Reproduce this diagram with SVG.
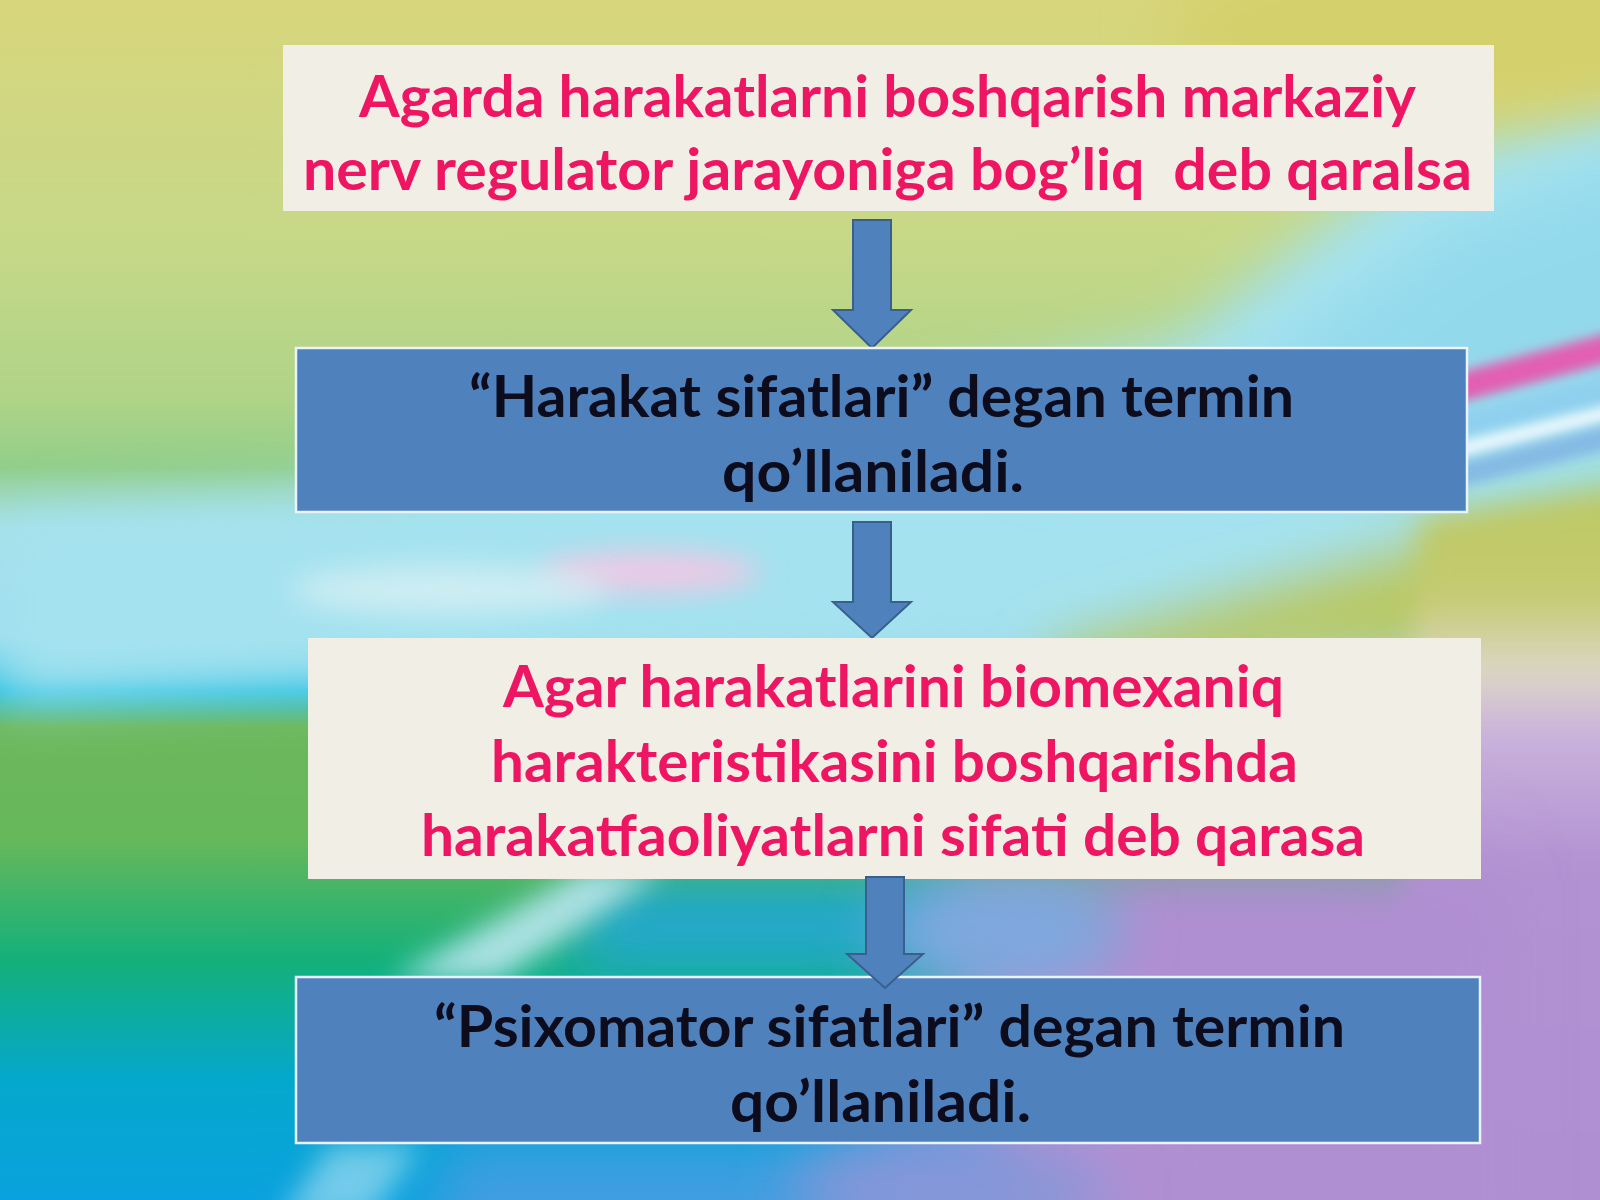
<svg xmlns="http://www.w3.org/2000/svg" width="1600" height="1200" viewBox="0 0 1600 1200">
<defs>
<style>
.cream{fill:#f1eee5;}
.blue{fill:#4f81bd;stroke:#eaf4fb;stroke-width:2.5;}
.pink{fill:#ee1663;font-family:Lato,"Open Sans","Liberation Sans",sans-serif;font-weight:bold;font-size:58px;}
.dark{fill:#0c0c1c;font-family:Lato,"Open Sans","Liberation Sans",sans-serif;font-weight:bold;font-size:58px;}
.arrow{fill:#4f81bd;stroke:#3a5f8c;stroke-width:2;stroke-linejoin:miter;}
</style>
<linearGradient id="bgv" x1="0" y1="0" x2="0" y2="1">
<stop offset="0" stop-color="#d8d67c"/>
<stop offset="0.2" stop-color="#c6d888"/>
<stop offset="0.33" stop-color="#b0d487"/>
<stop offset="0.39" stop-color="#92ce8a"/>
<stop offset="0.44" stop-color="#a6e0e6"/>
<stop offset="0.53" stop-color="#9edcf0"/>
<stop offset="0.575" stop-color="#22c0e0"/>
<stop offset="0.605" stop-color="#6cb85c"/>
<stop offset="0.7" stop-color="#66b85a"/>
<stop offset="0.8" stop-color="#14b07a"/>
<stop offset="0.9" stop-color="#04a8cc"/>
<stop offset="1" stop-color="#0aa2de"/>
</linearGradient>
<linearGradient id="rightv" x1="0" y1="480" x2="0" y2="1250" gradientUnits="userSpaceOnUse">
<stop offset="0" stop-color="#bcc862"/>
<stop offset="0.15" stop-color="#c4cb70"/>
<stop offset="0.25" stop-color="#ddd6c6"/>
<stop offset="0.33" stop-color="#c9b2dc"/>
<stop offset="0.5" stop-color="#b292d2"/>
<stop offset="1" stop-color="#ae8ed2"/>
</linearGradient>
<filter id="b60" x="-50%" y="-50%" width="200%" height="200%"><feGaussianBlur stdDeviation="55"/></filter>
<filter id="b30" x="-50%" y="-50%" width="200%" height="200%"><feGaussianBlur stdDeviation="28"/></filter>
<filter id="b15" x="-50%" y="-50%" width="200%" height="200%"><feGaussianBlur stdDeviation="14"/></filter>
<filter id="b6" x="-50%" y="-50%" width="200%" height="200%"><feGaussianBlur stdDeviation="6"/></filter>
</defs>

<g id="background">
<rect x="0" y="0" width="1600" height="1200" fill="url(#bgv)"/>
<!-- cyan wedge from upper right -->
<polygon points="1750,60 1400,170 1340,215 1180,340 700,450 300,500 0,520 0,700 600,660 1080,640 1450,520 1750,470" fill="#a4e2ef" filter="url(#b30)"/>
<polygon points="1750,120 1450,230 1250,380 1000,470 1200,470 1500,420 1750,380" fill="#8fd8ec" filter="url(#b30)" opacity="0.8"/>
<!-- yellow top right -->
<ellipse cx="1480" cy="30" rx="320" ry="80" fill="#d4d06c" filter="url(#b30)"/>
<!-- yellow-green right middle below wedge -->
<polygon points="1050,650 1450,540 1750,490 1750,640 1300,660 1050,700" fill="#bac862" filter="url(#b30)"/>
<!-- right strip: yellow-green to pale to purple -->
<polygon points="1420,520 1700,480 1700,1300 1380,1300" fill="url(#rightv)" filter="url(#b15)"/>
<!-- purple lower right -->
<polygon points="1200,880 1450,880 1450,1300 880,1300 900,1140 960,880" fill="#b290d2" filter="url(#b60)"/>
<polygon points="1100,880 1500,880 1500,1300 1150,1300" fill="#b08ed2" filter="url(#b30)"/>
<!-- lower middle blue -->
<polygon points="600,880 960,880 960,975 560,975" fill="#22a8cc" filter="url(#b30)"/>
<ellipse cx="1000" cy="930" rx="120" ry="60" fill="#7fa8e0" filter="url(#b30)"/>
<polygon points="450,1145 1000,1145 1000,1260 420,1260" fill="#3f9ee0" filter="url(#b30)"/>
<ellipse cx="950" cy="1190" rx="160" ry="50" fill="#8896d8" filter="url(#b30)"/>
<!-- light rays lower middle -->
<polygon points="390,980 500,980 665,870 585,870" fill="#c4eaf6" filter="url(#b15)" opacity="0.85"/>
<polygon points="280,1220 370,1220 420,1145 330,1145" fill="#9fdcf0" filter="url(#b15)" opacity="0.7"/>
<!-- pink haze middle -->
<ellipse cx="650" cy="572" rx="110" ry="20" fill="#efc8e4" filter="url(#b15)"/>
<ellipse cx="450" cy="590" rx="160" ry="25" fill="#dff2f4" filter="url(#b15)" opacity="0.7"/>
<!-- streaks right -->
<polygon points="1430,380 1650,322 1650,352 1430,410" fill="#e25eb2" filter="url(#b6)"/>
<polygon points="1430,420 1650,364 1650,395 1430,448" fill="#8fd0ee" filter="url(#b6)"/>
<polygon points="1430,450 1650,396 1650,410 1430,464" fill="#f2f9ff" filter="url(#b6)"/>
<polygon points="1430,470 1650,414 1650,440 1430,495" fill="#7fb0e2" filter="url(#b6)" opacity="0.8"/>
</g>

<g id="connectors">
<polygon class="arrow" points="853,220 891,220 891,310 911,310 872,348 833,310 853,310"/>
<polygon class="arrow" points="853,522 891,522 891,602 911,602 872,638 833,602 853,602"/>
</g>

<g id="node1">
<rect class="cream" x="283" y="45" width="1211" height="166"/>
<text class="pink" x="359" y="117" textLength="1057" lengthAdjust="spacingAndGlyphs">Agarda harakatlarni boshqarish markaziy</text>
<text class="pink" x="303" y="190" textLength="1169" lengthAdjust="spacingAndGlyphs" xml:space="preserve">nerv regulator jarayoniga bog’liq  deb qaralsa</text>
</g>

<g id="node2">
<rect class="blue" x="296" y="348" width="1171" height="164"/>
<text class="dark" x="469" y="417" textLength="825" lengthAdjust="spacingAndGlyphs">“Harakat sifatlari” degan termin</text>
<text class="dark" x="722" y="492" textLength="302" lengthAdjust="spacingAndGlyphs">qo’llaniladi.</text>
</g>

<g id="node3">
<rect class="cream" x="308" y="638" width="1173" height="241"/>
<text class="pink" x="503" y="707" textLength="781" lengthAdjust="spacingAndGlyphs">Agar harakatlarini biomexaniq</text>
<text class="pink" x="491" y="782" textLength="807" lengthAdjust="spacingAndGlyphs">harakteristikasini boshqarishda</text>
<text class="pink" x="421" y="856" textLength="944" lengthAdjust="spacingAndGlyphs">harakatfaoliyatlarni sifati deb qarasa</text>
</g>

<g id="node4">
<rect class="blue" x="296" y="977" width="1184" height="166"/>
<text class="dark" x="434" y="1047" textLength="911" lengthAdjust="spacingAndGlyphs">“Psixomator sifatlari” degan termin</text>
<text class="dark" x="730" y="1122" textLength="301" lengthAdjust="spacingAndGlyphs">qo’llaniladi.</text>
</g>

<g id="connector3">
<polygon class="arrow" points="866,877 904,877 904,954 923,954 885,988 847,954 866,954"/>
</g>
</svg>
